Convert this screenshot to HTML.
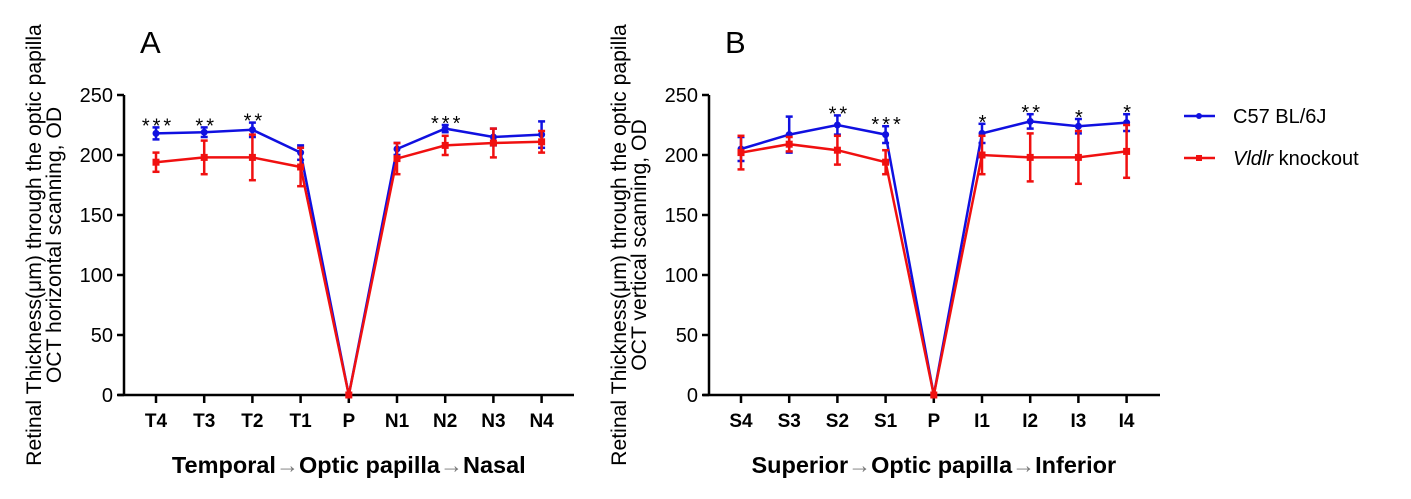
<!DOCTYPE html>
<html><head><meta charset="utf-8"><style>
body{margin:0;background:#fff;}
svg{display:block;font-family:"Liberation Sans",Arial,sans-serif;}
</style></head><body>
<svg id="chart" width="1411" height="499" viewBox="0 0 1411 499"></svg>
<script>
const catsA = ["T4","T3","T2","T1","P","N1","N2","N3","N4"];
const blueA = [218,219,221,202,0,205,222,215,217];
const blueErrA = [5,4,6,6,0,5,3,7,11];
const redA = [194,198,198,190,0,197,208,210,211];
const redErrA = [8,14,19,16,0,13,8,12,9];
const starsA = ["***","**","**","","","","***","",""];
const catsB = ["S4","S3","S2","S1","P","I1","I2","I3","I4"];
const blueB = [205,217,225,217,0,218,228,224,227];
const blueErrB = [10,15,8,7,0,8,6,6,7];
const redB = [202,209,204,194,0,200,198,198,203];
const redErrB = [14,6,12,10,0,16,20,22,22];
const starsB = ["","","**","***","","*","**","*","*"];
const yTicks = [0,50,100,150,200,250];

const NS="http://www.w3.org/2000/svg";
const svg=document.getElementById('chart');
function mk(tag,attrs,parent){const e=document.createElementNS(NS,tag);for(const k in attrs)e.setAttribute(k,attrs[k]);(parent||svg).appendChild(e);return e;}

function panel(cfg){
  const g=mk('g',{});
  
  
  const y=v=>395-v*1.2;
  const x=i=>cfg.x0+i*cfg.dx;
  const ya=mk('line',{x1:cfg.ax,y1:95,x2:cfg.ax,y2:396,stroke:'#000','stroke-width':2.5},g);
  
  
  const xa=mk('line',{x1:cfg.ax-6,y1:395,x2:cfg.axEnd,y2:395,stroke:'#000','stroke-width':2.5},g);
  
  
  yTicks.forEach(t=>{
    mk('line',{x1:cfg.ax-7,y1:y(t),x2:cfg.ax,y2:y(t),stroke:'#000','stroke-width':2.5},g);
    const tx=mk('text',{x:cfg.ax-11,y:y(t)+7,'text-anchor':'end','font-size':20},g);
    tx.textContent=t;
    
    
  });
  cfg.cats.forEach((c,i)=>{
    mk('line',{x1:x(i),y1:395,x2:x(i),y2:403,stroke:'#000','stroke-width':2.5},g);
    const tx=mk('text',{x:x(i),y:427,'text-anchor':'middle','font-size':19,'font-weight':'bold'},g);
    tx.textContent=c;
    
    
  });
  function series(vals,errs,col,nm,sq){
    const sg=mk('g',{},g);
    
    
    mk('polyline',{points:vals.map((v,i)=>x(i)+','+y(v)).join(' '),fill:'none',stroke:col,'stroke-width':2.5},sg);
    vals.forEach((v,i)=>{
      if(errs[i]>0){
        mk('line',{x1:x(i),y1:y(v-errs[i]),x2:x(i),y2:y(v+errs[i]),stroke:col,'stroke-width':2.5},sg);
        mk('line',{x1:x(i)-3.5,y1:y(v+errs[i]),x2:x(i)+3.5,y2:y(v+errs[i]),stroke:col,'stroke-width':2.5},sg);
        mk('line',{x1:x(i)-3.5,y1:y(v-errs[i]),x2:x(i)+3.5,y2:y(v-errs[i]),stroke:col,'stroke-width':2.5},sg);
      }
      const m=sq?mk('rect',{x:x(i)-3.5,y:y(v)-3.5,width:7,height:7,fill:col},sg):mk('circle',{cx:x(i),cy:y(v),r:3.5,fill:col},sg);
      
      
    });
  }
  series(cfg.blue,cfg.blueErr,'#1010e0','series-c57','');
  series(cfg.red,cfg.redErr,'#f01010','series-vldlr',true);
  cfg.stars.forEach((s,i)=>{
    if(!s)return;
    const top=Math.max(cfg.blue[i]+cfg.blueErr[i],cfg.red[i]+cfg.redErr[i]);
    const tx=mk('text',{x:x(i)+2,y:y(top)+5,'text-anchor':'middle','font-size':20,'letter-spacing':3},g);
    tx.textContent=s;
    
    
  });
  const mid=(cfg.x0+x(8))/2;
  const xt=mk('text',{x:mid,y:473,'text-anchor':'middle','font-size':23.5,'font-weight':'bold'},g);
  
  
  const parts=cfg.xtitle;
  const a=mk('tspan',{},xt);a.textContent=parts[0];
  const ar1=mk('tspan',{fill:'#777','font-weight':'normal','font-size':23},xt);ar1.textContent='\u2192';
  const b=mk('tspan',{},xt);b.textContent=parts[1];
  const ar2=mk('tspan',{fill:'#777','font-weight':'normal','font-size':23},xt);ar2.textContent='\u2192';
  const c=mk('tspan',{},xt);c.textContent=parts[2];
  const yt=mk('text',{transform:`translate(${cfg.ax-82},245) rotate(-90)`,'text-anchor':'middle','font-size':21.2},g);
  
  
  const t1=mk('tspan',{x:0,y:-1},yt);t1.textContent='Retinal Thickness(\u03bcm) through the optic papilla';
  const t2=mk('tspan',{x:0,y:19},yt);t2.textContent=cfg.ytitle2;
  const pl=mk('text',{x:cfg.ax+16,y:53,'font-size':31},g);
  pl.textContent=cfg.letter;
  
  
}
panel({name:'panel-a',ax:124,axEnd:574,x0:156,dx:48.2,cats:catsA,blue:blueA,blueErr:blueErrA,red:redA,redErr:redErrA,stars:starsA,xtitle:['Temporal','Optic papilla','Nasal'],ytitle2:'OCT horizontal scanning, OD',letter:'A'});
panel({name:'panel-b',ax:709,axEnd:1160,x0:741,dx:48.2,cats:catsB,blue:blueB,blueErr:blueErrB,red:redB,redErr:redErrB,stars:starsB,xtitle:['Superior','Optic papilla','Inferior'],ytitle2:'OCT vertical scanning, OD',letter:'B'});
</script>
<svg style="position:absolute;left:0;top:0" width="1411" height="499">
<g>
<line x1="1184" y1="116" x2="1215" y2="116" stroke="#1010e0" stroke-width="2.5"/><circle cx="1199" cy="116" r="3" fill="#1010e0"/>
<text x="1233" y="123" font-size="20" font-family="Liberation Sans, sans-serif">C57 BL/6J</text></g>
<g>
<line x1="1184" y1="158" x2="1215" y2="158" stroke="#f01010" stroke-width="2.5"/><rect x="1196" y="155" width="6" height="6" fill="#f01010"/>
<text x="1233" y="165" font-size="20" font-family="Liberation Sans, sans-serif"><tspan font-style="italic">Vldlr</tspan> knockout</text></g>
</svg>
</body></html>
